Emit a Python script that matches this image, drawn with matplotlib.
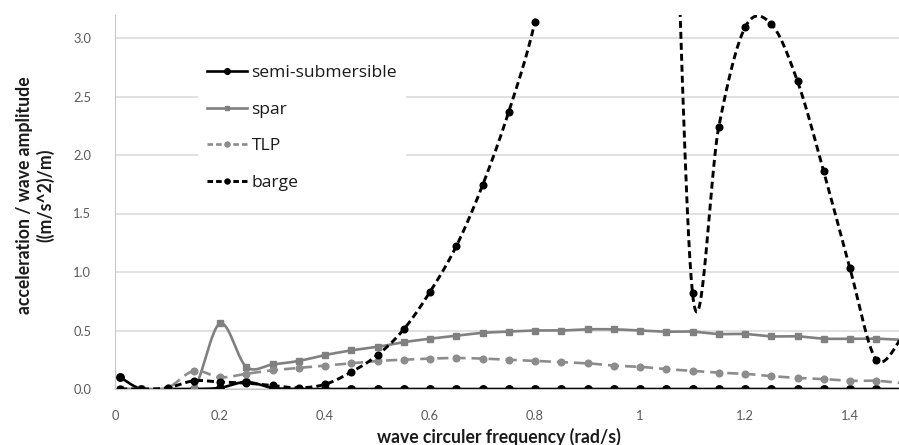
import numpy as np
import matplotlib
matplotlib.use("Agg")
import matplotlib.pyplot as plt
from matplotlib.lines import Line2D

plt.rcParams['font.family'] = ['Lato', 'DejaVu Sans']
plt.rcParams['lines.scale_dashes'] = False

# wave circular frequency (rad/s)
freq = [0.01, 0.05, 0.10, 0.15, 0.20, 0.25, 0.30, 0.35, 0.40, 0.45, 0.50,
        0.55, 0.60, 0.65, 0.70, 0.75, 0.80, 0.85, 0.90, 0.95, 1.00, 1.05,
        1.10, 1.15, 1.20, 1.25, 1.30, 1.35, 1.40, 1.45, 1.50]

semi_sub = [0.10, 0.00, 0.00, 0.00, 0.01, 0.06, 0.01, 0.00, 0.00, 0.00, 0.00,
            0.00, 0.00, 0.00, 0.00, 0.00, 0.00, 0.00, 0.00, 0.00, 0.00, 0.00,
            0.00, 0.00, 0.00, 0.00, 0.00, 0.00, 0.00, 0.00, 0.00]

spar = [0.00, 0.00, 0.00, 0.00, 0.56, 0.19, 0.21, 0.24, 0.29, 0.33, 0.36,
        0.40, 0.43, 0.455, 0.48, 0.49, 0.50, 0.50, 0.51, 0.51, 0.50, 0.49,
        0.49, 0.47, 0.47, 0.45, 0.45, 0.43, 0.43, 0.43, 0.42]

tlp = [0.00, 0.00, 0.01, 0.155, 0.10, 0.13, 0.16, 0.18, 0.20, 0.22, 0.24,
       0.25, 0.26, 0.265, 0.26, 0.25, 0.24, 0.23, 0.22, 0.20, 0.19, 0.17,
       0.155, 0.14, 0.13, 0.11, 0.095, 0.085, 0.07, 0.07, 0.05]

barge = [0.00, 0.00, 0.01, 0.07, 0.06, 0.05, 0.03, 0.01, 0.04, 0.145, 0.29,
         0.51, 0.83, 1.22, 1.74, 2.37, 3.14, 4.30, 5.80, 7.50, 8.20, 6.40,
         0.82, 2.24, 3.09, 3.12, 2.63, 1.86, 1.03, 0.25, 0.45]

series_names = ["semi-submersible", "spar", "TLP", "barge"]
x_ticks = [0, 0.2, 0.4, 0.6, 0.8, 1.0, 1.2, 1.4]
x_tick_labels = ["0", "0.2", "0.4", "0.6", "0.8", "1", "1.2", "1.4"]
y_ticks = [0.0, 0.5, 1.0, 1.5, 2.0, 2.5, 3.0]
y_tick_labels = ["0.0", "0.5", "1.0", "1.5", "2.0", "2.5", "3.0"]

W, H = 899, 445
fig = plt.figure(figsize=(W / 100, H / 100), dpi=100)
ax = fig.add_axes([115 / W, 56 / H, (W - 115) / W, (389 - 14.6) / H])
ax.set_xlim(0, (W - 115) / 525)
ax.set_ylim(0, 3.2)


def smooth_curve(xs, ys, n=40):
    """Bezier smoothing (Catmull-Rom control points) in screen space."""
    pts = ax.transData.transform(np.column_stack([xs, ys]))
    out = [pts[0]]
    t = np.linspace(0, 1, n)[1:, None]
    for i in range(len(pts) - 1):
        p0 = pts[i - 1] if i > 0 else pts[i]
        p1, p2 = pts[i], pts[i + 1]
        p3 = pts[i + 2] if i + 2 < len(pts) else pts[i + 1]
        c1 = p1 + (p2 - p0) / 6
        c2 = p2 - (p3 - p1) / 6
        seg = ((1 - t) ** 3) * p1 + 3 * ((1 - t) ** 2) * t * c1 \
            + 3 * (1 - t) * (t ** 2) * c2 + (t ** 3) * p2
        out.extend(seg)
    out = ax.transData.inverted().transform(np.array(out))
    return out[:, 0], out[:, 1]


styles = [
    dict(color="#000000", lw=1.9, dashes=None, marker="o", ms=5.4),
    dict(color="#808080", lw=1.9, dashes=None, marker="s", ms=4.6),
    dict(color="#8c8c8c", lw=1.9, dashes=(8.0, 4.3), marker="o", ms=4.8),
    dict(color="#000000", lw=2.1, dashes=(5.0, 2.9), marker="o", ms=4.8),
]
data = [semi_sub, spar, tlp, barge]

handles = []
for name, ys, st in zip(series_names, data, styles):
    sx, sy = smooth_curve(freq, ys)
    line, = ax.plot(sx, sy, color=st["color"], lw=st["lw"],
                    solid_capstyle="round")
    if st["dashes"]:
        line.set_dashes(st["dashes"])
    ax.plot(freq, ys, ls="none", marker=st["marker"], ms=st["ms"],
            color=st["color"], mec=st["color"])
    h = Line2D([], [], color=st["color"], lw=st["lw"], marker=st["marker"],
               ms=st["ms"] * 0.75)
    if st["dashes"]:
        h.set_dashes((4.0, 2.2))
    handles.append(h)

ax.set_xticks(x_ticks)
ax.set_xticklabels(x_tick_labels)
ax.set_yticks(y_ticks)
ax.set_yticklabels(y_tick_labels)
ax.tick_params(axis="both", length=0, labelsize=9.3, colors="#595959")
ax.tick_params(axis="x", pad=15)
ax.tick_params(axis="y", pad=17)

ax.grid(axis="y", color="#d9d9d9", lw=1.1)
ax.set_axisbelow(True)
for side in ("top", "right"):
    ax.spines[side].set_visible(False)
ax.spines["left"].set_color("#c8c8c8")
ax.spines["bottom"].set_color("#c8c8c8")

fig.text(499 / W, 1 - 437 / H, "wave circuler frequency (rad/s)",
         ha="center", va="center", fontsize=12.7, fontweight="bold",
         color="#1a1a1a")
fig.text(35 / W, 1 - 195 / H, "acceleration / wave amplitude\n((m/s^2)/m)",
         ha="center", va="center", rotation=90, fontsize=12.7,
         fontweight="bold", color="#1a1a1a", multialignment="center",
         linespacing=1.2)

leg = ax.legend(handles, series_names, loc="upper left",
                bbox_to_anchor=(198 / W, 1 - 56 / H),
                bbox_transform=fig.transFigure, frameon=True,
                prop={"family": ["Open Sans", "DejaVu Sans"], "size": 12.6},
                handlelength=2.3, handletextpad=0.25,
                labelspacing=1.17, borderpad=0.5, borderaxespad=0)
leg.get_frame().set_facecolor("white")
leg.get_frame().set_edgecolor("none")
leg.get_frame().set_alpha(1)
leg.get_frame().set_boxstyle("square", pad=0)
for txt in leg.get_texts():
    txt.set_color("#1a1a1a")

fig.savefig("out.png", dpi=100)
